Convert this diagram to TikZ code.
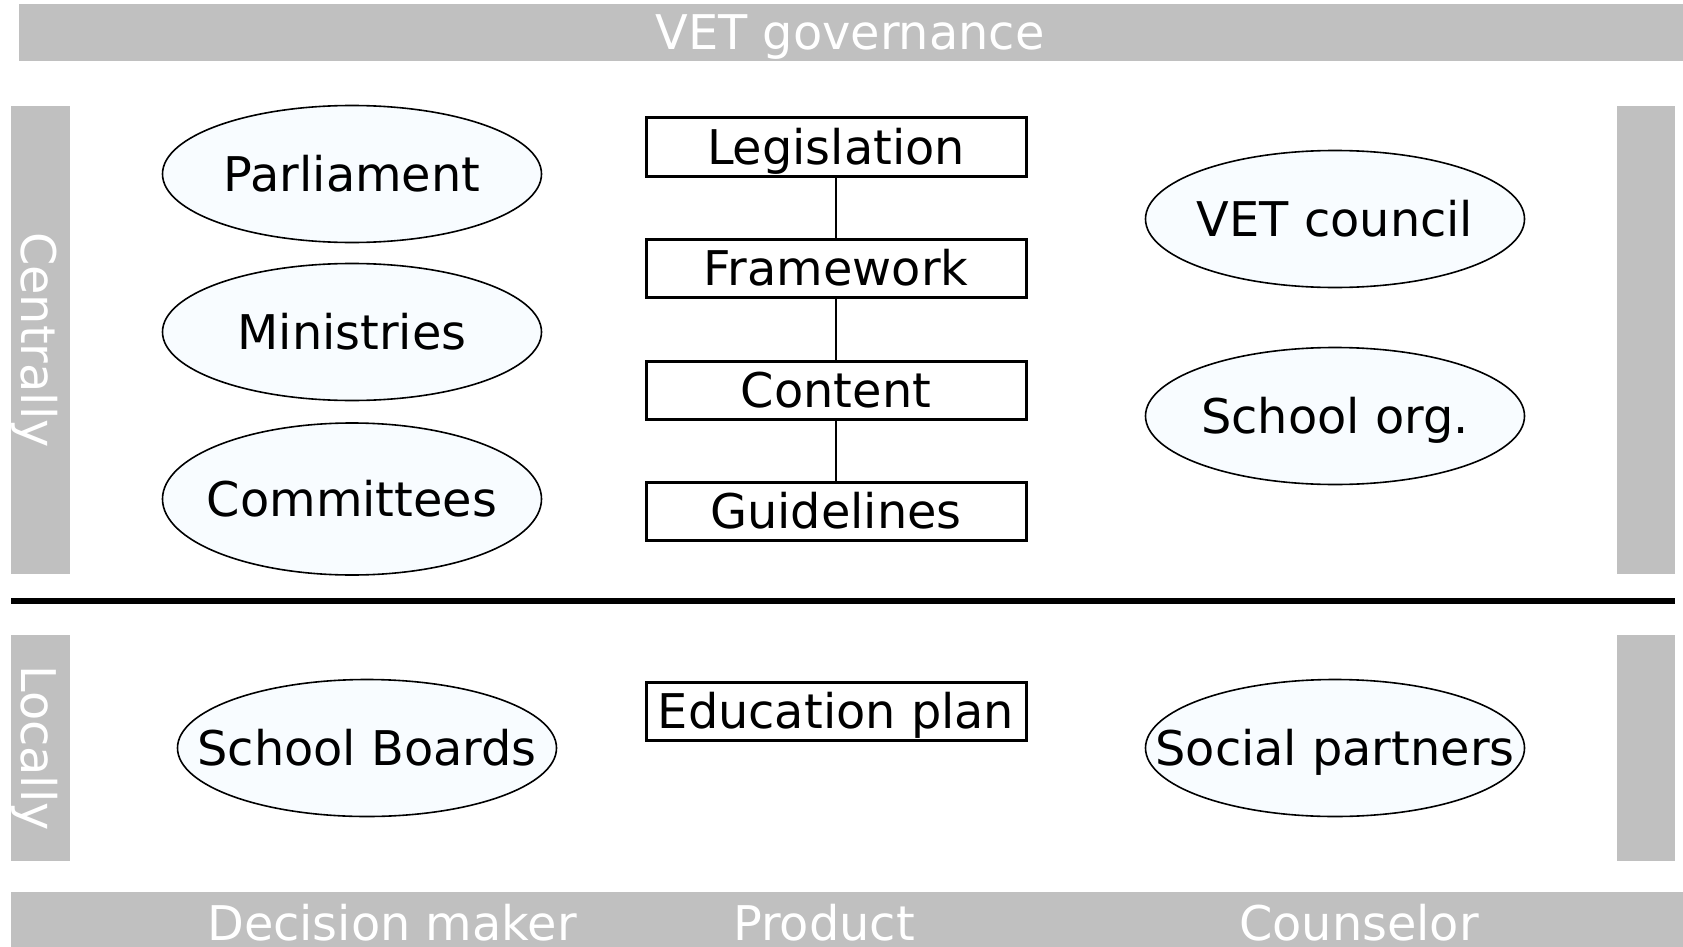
\documentclass[tikz,border=0pt]{standalone}
\usepackage{fontspec}
\setmainfont{DejaVu Sans}
\usetikzlibrary{shapes.geometric}
\definecolor{bargray}{RGB}{192,192,192}
\definecolor{ellfill}{RGB}{248,252,255}
\tikzset{
  bar/.style={fill=bargray, draw=none},
  bartext/.style={text=white, inner sep=0pt, text depth=0pt, font=\fontsize{47.8}{56}\selectfont},
  ell/.style={ellipse, draw=black, line width=1.6pt, fill=ellfill, minimum width=379pt, minimum height=137pt, inner sep=0pt},
  lbl/.style={inner sep=0pt, text height=35pt, text depth=0pt, font=\fontsize{47.8}{56}\selectfont},
  prodbox/.style={rectangle, draw=black, line width=3pt, fill=white, minimum width=380pt, minimum height=58pt, inner sep=0pt, text height=35pt, text depth=0pt, font=\fontsize{47.8}{56}\selectfont},
  link/.style={draw=black, line width=1.5pt},
}
\begin{document}
\begin{tikzpicture}[x=1pt, y=-1pt]
\useasboundingbox (0,0) rectangle (1683,947);
\fill[white] (0,0) rectangle (1683,947);
% gray bars
\path[bar] (19,4) rectangle (1683,61);
\path[bar] (11,106) rectangle (70,574);
\path[bar] (1617,106) rectangle (1675,574);
\path[bar] (11,635) rectangle (70,861);
\path[bar] (1617,635) rectangle (1675,861);
\path[bar] (11,892) rectangle (1683,947);
% bar labels
\node[bartext, anchor=base] (title) at (850,50) {VET governance};
\node[bartext, rotate=-90, text height=35pt] (central) at (39,340) {Centrally};
\node[bartext, rotate=-90, text height=35pt] (local) at (39,748) {Locally};
\node[bartext, anchor=base] (dm) at (392,940) {Decision maker};
\node[bartext, anchor=base] (pr) at (824,940) {Product};
\node[bartext, anchor=base] (co) at (1359,940) {Counselor};
% divider
\coordinate (divL) at (11,601);
\coordinate (divR) at (1675,601);
\draw[line width=6pt] (divL) -- (divR);
% ellipses
\node[ell] (parl) at (352,174) {};
\node[lbl] at (parl) {Parliament};
\node[ell] (mini) at (352,332) {};
\node[lbl] at (mini) {Ministries};
\node[ell, minimum height=152pt] (comm) at (352,499) {};
\node[lbl] at (comm) {Committees};
\node[ell] (vetc) at (1335,219) {};
\node[lbl] at (vetc) {VET council};
\node[ell] (sorg) at (1335,416) {};
\node[lbl] at (sorg) {School org.};
\node[ell] (sboa) at (367,748) {};
\node[lbl] at (sboa) {School Boards};
\node[ell] (socp) at (1335,748) {};
\node[lbl] at (socp) {Social partners};
% product boxes
\node[prodbox] (leg) at (836,147) {Legislation};
\node[prodbox] (frm) at (836,268) {Framework};
\node[prodbox] (con) at (836,390) {Content};
\node[prodbox] (gui) at (836,511) {Guidelines};
\node[prodbox] (edu) at (836,711) {Education plan};
\draw[link] (leg) -- (frm);
\draw[link] (frm) -- (con);
\draw[link] (con) -- (gui);
\end{tikzpicture}
\end{document}
